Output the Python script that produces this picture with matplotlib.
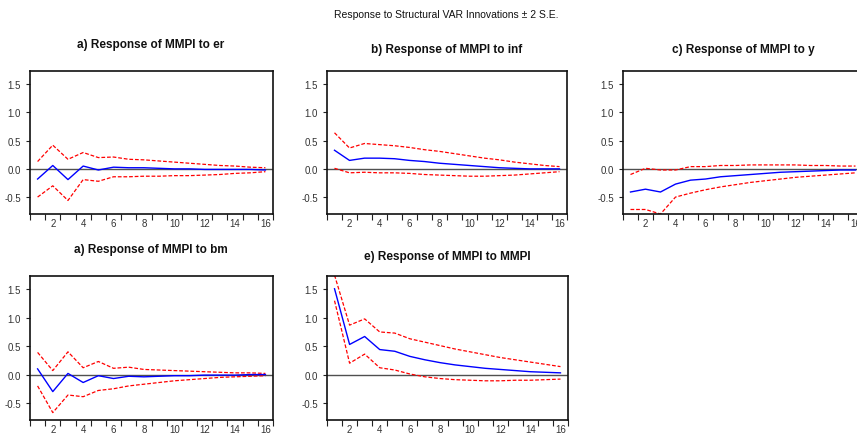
import matplotlib
matplotlib.use("Agg")
import matplotlib.pyplot as plt
import numpy as np

plt.rcParams['font.family'] = ['Liberation Sans', 'DejaVu Sans']

periods = list(range(1, 17))

titles = ["a) Response of MMPI to er", "b) Response of MMPI to inf", "c) Response of MMPI to y",
          "a) Response of MMPI to bm", "e) Response of MMPI to MMPI"]

er_mid = [-0.18, 0.06, -0.19, 0.05, -0.02, 0.03, 0.02, 0.02, 0.01, 0.00, 0.00, -0.01, -0.01, -0.01, -0.01, -0.02]
er_up = [0.13, 0.42, 0.17, 0.29, 0.20, 0.21, 0.17, 0.16, 0.14, 0.12, 0.10, 0.08, 0.06, 0.05, 0.03, 0.02]
er_lo = [-0.50, -0.30, -0.56, -0.19, -0.22, -0.14, -0.14, -0.13, -0.13, -0.12, -0.12, -0.11, -0.10, -0.08, -0.07, -0.05]

inf_mid = [0.33, 0.15, 0.19, 0.19, 0.18, 0.15, 0.13, 0.10, 0.08, 0.06, 0.04, 0.02, 0.01, 0.00, 0.00, 0.00]
inf_up = [0.64, 0.37, 0.45, 0.43, 0.41, 0.38, 0.34, 0.31, 0.27, 0.23, 0.19, 0.16, 0.12, 0.09, 0.06, 0.04]
inf_lo = [0.01, -0.07, -0.06, -0.07, -0.07, -0.08, -0.10, -0.11, -0.12, -0.13, -0.13, -0.12, -0.11, -0.09, -0.07, -0.05]

y_mid = [-0.41, -0.36, -0.41, -0.27, -0.20, -0.18, -0.14, -0.12, -0.10, -0.08, -0.06, -0.05, -0.04, -0.03, -0.02, -0.02]
y_up = [-0.10, 0.01, -0.02, -0.02, 0.04, 0.04, 0.06, 0.06, 0.07, 0.07, 0.07, 0.07, 0.06, 0.06, 0.05, 0.05]
y_lo = [-0.72, -0.72, -0.80, -0.50, -0.43, -0.37, -0.32, -0.28, -0.24, -0.21, -0.18, -0.15, -0.13, -0.11, -0.09, -0.07]

bm_mid = [0.10, -0.30, 0.02, -0.14, -0.02, -0.07, -0.03, -0.04, -0.03, -0.02, -0.02, -0.01, -0.01, -0.01, 0.00, 0.00]
bm_up = [0.39, 0.07, 0.40, 0.12, 0.23, 0.11, 0.13, 0.09, 0.08, 0.07, 0.06, 0.05, 0.04, 0.03, 0.03, 0.02]
bm_lo = [-0.20, -0.67, -0.36, -0.39, -0.28, -0.25, -0.20, -0.17, -0.14, -0.11, -0.09, -0.07, -0.05, -0.04, -0.03, -0.02]

mmpi_mid = [1.51, 0.53, 0.67, 0.44, 0.41, 0.32, 0.26, 0.21, 0.17, 0.14, 0.11, 0.09, 0.07, 0.05, 0.04, 0.03]
mmpi_up = [1.75, 0.87, 0.98, 0.75, 0.73, 0.63, 0.57, 0.51, 0.45, 0.40, 0.35, 0.30, 0.26, 0.22, 0.18, 0.14]
mmpi_lo = [1.30, 0.20, 0.36, 0.12, 0.08, 0.01, -0.04, -0.07, -0.09, -0.10, -0.11, -0.11, -0.10, -0.10, -0.09, -0.08]

series = [(er_mid, er_up, er_lo), (inf_mid, inf_up, inf_lo), (y_mid, y_up, y_lo),
          (bm_mid, bm_up, bm_lo), (mmpi_mid, mmpi_up, mmpi_lo)]

W, H = 857, 435
fig = plt.figure(figsize=(W / 100, H / 100), dpi=100)

# pixel rects: left, top, right, bottom
rects = [(30, 72, 273, 215), (327, 72, 567, 215), (623, 72, 863, 215),
         (30, 277, 273, 421), (327, 277, 568, 421)]
title_pos = [(151, 45), (447, 50), (743, 50), (151, 250), (447, 257)]

for i, (rect, (mid, up, lo)) in enumerate(zip(rects, series)):
    l, t, r, b = rect
    ax = fig.add_axes([l / W, 1 - b / H, (r - l) / W, (b - t) / H])
    ax.axhline(0, color='#505050', lw=1.0, zorder=1)
    ax.plot(periods, up, color='#ff0000', lw=0.9, ls=(0, (3, 1.5)), zorder=2)
    ax.plot(periods, lo, color='#ff0000', lw=0.9, ls=(0, (3, 1.5)), zorder=2)
    ax.plot(periods, mid, color='#0000ff', lw=1.0, zorder=3)
    ax.set_xlim(0.5, 16.5)
    ax.set_ylim(-0.8, 1.735)
    ax.set_yticks([-0.5, 0.0, 0.5, 1.0, 1.5])
    ax.set_yticklabels(['-0.5', '0.0', '0.5', '1.0', '1.5'])
    ax.set_xticks(np.arange(0.5, 17, 1.0))
    ax.set_xticklabels([])
    ax.set_xticks(list(range(2, 17, 2)), minor=True)
    ax.set_xticklabels([str(v) for v in range(2, 17, 2)], minor=True)
    ax.tick_params(axis='x', which='major', direction='out', length=4, width=0.8, color='#222222')
    ax.tick_params(axis='x', which='minor', length=0, labelsize=7, colors='#333333', pad=3)
    ax.tick_params(axis='y', direction='out', length=3, width=0.8, labelsize=7, labelcolor='#333333', color='#222222')
    for s in ax.spines.values():
        s.set_linewidth(1.2)
        s.set_color('#111111')
    tx, ty = title_pos[i]
    fig.text(tx / W, 1 - ty / H, titles[i], ha='center', va='center', fontsize=8.5, fontweight='bold', color='#111111')

fig.text(446 / W, 1 - 15 / H, "Response to Structural VAR Innovations \u00b1 2 S.E.", ha='center', va='center', fontsize=7.5, color='#111111')

fig.savefig('out.png', dpi=100)
